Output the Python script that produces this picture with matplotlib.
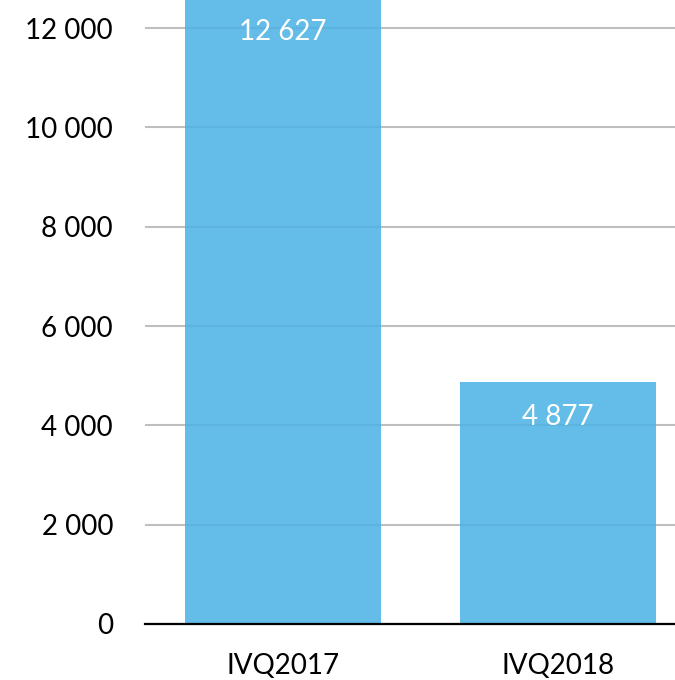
import matplotlib
matplotlib.use("Agg")
import matplotlib.pyplot as plt

categories = ["IVQ2017", "IVQ2018"]
values = [12627, 4877]
yticks = [0, 2000, 4000, 6000, 8000, 10000, 12000]


def fmt(v):
    # space as thousands separator
    return f"{v:,}".replace(",", " ")


plt.rcParams["font.family"] = ["Lato", "DejaVu Sans"]

fig = plt.figure(figsize=(6.75, 6.8), dpi=100)
ax = fig.add_axes([145 / 675, 56 / 680, 551 / 675, 624 / 680])

x = range(len(categories))
bars = ax.bar(x, values, width=0.71, color="#4DB2E6", alpha=0.87, zorder=2)

for b, v in zip(bars, values):
    ax.annotate(fmt(v), (b.get_x() + b.get_width() / 2, v),
                xytext=(0, -25), textcoords="offset points",
                ha="center", va="center", color="white", fontsize=20,
                zorder=3, annotation_clip=False)

ax.set_xlim(-0.5, 1.5)
ax.set_ylim(0, 12565)
ax.set_yticks(yticks)
ax.set_yticklabels([fmt(t) for t in yticks])
ax.set_xticks(list(x))
ax.set_xticklabels(categories)
ax.tick_params(axis="y", length=0, pad=23, labelsize=20)
ax.tick_params(axis="x", length=0, pad=21, labelsize=20)

ax.grid(axis="y", color="#BFBFBF", linewidth=1.5, zorder=1)
ax.set_axisbelow(True)
for s in ["top", "right", "left"]:
    ax.spines[s].set_visible(False)
ax.spines["bottom"].set_color("black")
ax.spines["bottom"].set_linewidth(1.6)
ax.spines["bottom"].set_zorder(4)

fig.savefig("out.png", dpi=100)
